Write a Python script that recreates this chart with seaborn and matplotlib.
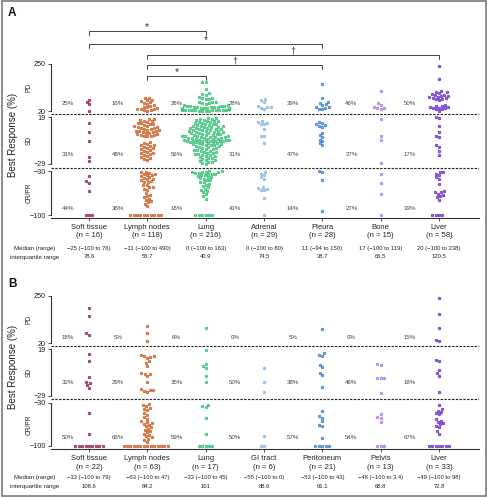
import numpy as np
import pandas as pd
import matplotlib
matplotlib.use("Agg")
import matplotlib.pyplot as plt
import seaborn as sns
from matplotlib.transforms import blended_transform_factory as btf
from matplotlib.patches import Rectangle

sns.set_style("white")
plt.rcParams["font.family"] = ["Liberation Sans", "DejaVu Sans"]

# ---------------- data: panel A ----------------
A_sites = ["Soft tissue", "Lymph nodes", "Lung", "Adrenal", "Pleura", "Bone", "Liver"]
A_n = [16, 118, 216, 29, 28, 15, 58]
A_soft = [76, 64, 52, 22, 13, 4, -5, -22, -26, -38, -46, -49, -62, -100, -100, -100]
A_lymph = [85, 82, 75, 72, 68, 62, 58, 55, 50, 46, 42, 38, 35, 32, 30, 28, 26, 24, 22,
           17, 17, 16, 15, 15, 14, 13, 13, 12, 12, 11, 10, 10, 9, 9, 8, 8, 7, 7, 6, 6, 5, 5, 5,
           4, 4, 3, 3, 2, 2, 1, 1, 0, 0, 0,
           -7, -8, -9, -10, -10, -11, -12, -13, -13, -14, -15, -16, -17, -18, -18, -19, -20,
           -21, -22, -23, -24, -25,
           -31, -32, -33, -34, -35, -36, -37, -38, -40, -41, -42, -43, -45, -46, -47, -48,
           -52, -53, -55, -56, -58, -60, -65, -68, -70, -72, -74, -76, -78, -80, -82, -85,
           -100, -100, -100, -100, -100, -100, -100, -100, -100, -100]
A_lung = [163, 160, 126, 108, 104, 100, 88, 85, 82, 80, 78, 66, 64, 62, 60, 58, 56,
          21, 21, 22, 22, 23, 23, 24, 24, 25, 25, 26, 26, 27, 27, 28, 28, 29, 29, 30, 30,
          31, 31, 32, 33, 34, 35, 36, 37, 38, 39, 40, 41, 42, 43, 44, 45, 46, 47, 48,
          18, 18, 17, 17, 16, 16, 15, 15, 15, 14, 14, 13, 13, 12, 12, 12, 11, 11, 10, 10, 10,
          9, 9, 9, 8, 8, 8, 7, 7, 7, 6, 6, 6, 5, 5, 5, 4, 4, 4, 3, 3, 3, 2, 2, 2, 1, 1, 1,
          0, 0, 0, 0,
          -1, -1, -1, -1, -2, -2, -2, -2, -3, -3, -3, -3, -4, -4, -4, -4, -5, -5, -5, -5,
          -6, -6, -6, -6, -7, -7, -7, -8, -8, -8, -9, -9, -9, -10, -10, -10, -11, -11,
          -12, -12, -13, -13, -14, -14, -15, -15, -16, -16, -17, -17, -18, -18, -19, -19,
          -20, -20, -21, -21, -22, -23, -23, -24, -25, -25, -26, -27, -27, -28, -29,
          -30, -30, -31, -31, -32, -32, -33, -33, -34, -34, -35, -36, -37, -38, -39, -40,
          -41, -42, -44, -45, -47, -48, -50, -52, -54, -56, -58, -60, -62, -64, -67, -70, -74,
          -100, -100, -100, -100, -100, -100]
A_adrenal = [80, 75, 64, 45, 40, 38, 35, 32, 15, 14, 13, 12, 12, 7, 0, 0, -8,
             -31, -34, -36, -40, -42, -56, -57, -58, -60, -61, -73, -100]
A_pleura = [150, 85, 65, 60, 55, 50, 42, 38, 35, 32, 28, 14, 13, 12, 11, 10, 9, 3, 1,
            -1, -4, -6, -8, -10, -30, -31, -45, -94]
A_bone = [119, 60, 48, 40, 36, 33, 30, 17, 0, -4, -28, -35, -49, -67, -100]
A_liver = [238, 177, 120, 115, 112, 108, 105, 100, 98, 95, 93, 90, 88, 85, 82, 80, 78, 75,
           50, 46, 44, 42, 40, 37, 35, 33, 30, 28, 21,
           19, 18, 10, 4, 0, -1, -10, -12, -16, -20,
           -31, -32, -34, -37, -40, -43, -50, -62, -63, -64, -66, -68, -70, -72, -76,
           -100, -100, -100, -100]
A_pd_pct = [25, 16, 26, 28, 39, 46, 50]
A_sd_pct = [31, 48, 56, 31, 47, 27, 17]
A_cr_pct = [44, 36, 18, 41, 14, 27, 33]
A_median = ["\u221225 (\u2212100 to 76)", "\u221211 (\u2212100 to 490)", "0 (\u2212100 to 163)",
            "0 (\u2212100 to 80)", "11 (\u221294 to 150)", "17 (\u2212100 to 119)",
            "20 (\u2212100 to 238)"]
A_iqr = ["78.6", "55.7", "40.9", "74.5", "38.7", "65.5", "120.5"]

# ---------------- data: panel B ----------------
B_sites = ["Soft tissue", "Lymph nodes", "Lung", "GI tract", "Peritoneum", "Pelvis", "Liver"]
B_n = [22, 63, 17, 6, 21, 13, 33]
B_soft = [190, 154, 68, 62, 14, 7, -9, -15, -16, -18, -21, -46, -80,
          -100, -100, -100, -100, -100, -100, -100, -100, -100]
B_lymph = [103, 70, 30,
           13, 12, 12, 11, 10, 7, 5, 2, -5, -6, -6, -8, -15, -22, -23, -23, -24, -25,
           -32, -34, -36, -38, -40, -42, -47, -50, -53, -56, -60, -62, -63, -64, -66, -68,
           -70, -72, -74, -76, -78, -80, -82, -84, -86, -88, -90, -93,
           -100, -100, -100, -100, -100, -100, -100, -100, -100, -100, -100, -100, -100, -100]
B_lung = [94, 18, 4, 2, 0, -8, -15, -33, -35, -37, -54, -81, -100, -100, -100, -100, -100]
B_gi = [0, -15, -25, -84, -100, -100]
B_perit = [88, 15, 13, 12, 3, 1, -5, -7, -20, -44, -52, -54, -60, -66, -68, -87,
           -100, -100, -100, -100, -100]
B_pelvis = [3.4, 3, -10, -10, -11, -26, -48, -53, -55, -62, -100, -100, -100]
B_liver = [240, 162, 94, 37, 33, 8, 7, -2, -5, -8, -25,
           -33, -40, -43, -45, -47, -49, -57, -59, -61, -63, -65, -67, -70, -76, -80,
           -100, -100, -100, -100, -100, -100, -100]
B_pd_pct = [18, 5, 6, 0, 5, 0, 15]
B_sd_pct = [32, 29, 35, 50, 38, 46, 18]
B_cr_pct = [50, 66, 59, 50, 57, 54, 67]
B_median = ["\u221233 (\u2212100 to 79)", "\u221263 (\u2212100 to 47)", "\u221233 (\u2212100 to 45)",
            "\u221255 (\u2212100 to 0)", "\u221253 (\u2212100 to 43)", "\u221248 (\u2212100 to 3.4)",
            "\u221249 (\u2212100 to 98)"]
B_iqr = ["108.6", "84.2", "101", "88.6", "91.1", "68.8", "72.8"]

A_colors = ["#8e1c42", "#c8581c", "#2fbd70", "#86b6e2", "#3b78c9", "#a877e8", "#6327c4"]
B_colors = ["#8e1c42", "#c8581c", "#2fbd70", "#86b6e2", "#3b78c9", "#a877e8", "#6327c4"]

TICKS = [-100, -30, -29, 19, 20, 250]
TICKLABELS = ["\u2212100", "\u221230", "\u221229", "19", "20", "250"]

W, H = 487, 497
fig = plt.figure(figsize=(W / 100, H / 100), dpi=100)


def fx(px):
    return px / W


def fy(py):
    return 1 - py / H


def make_map(xs, ys):
    xs = np.asarray(xs, float)
    ys = np.asarray(ys, float)
    s0 = (ys[1] - ys[0]) / (xs[1] - xs[0])
    s1 = (ys[-1] - ys[-2]) / (xs[-1] - xs[-2])

    def f(v):
        v = np.asarray(v, float)
        out = np.interp(v, xs, ys)
        out = np.where(v < xs[0], ys[0] + (v - xs[0]) * s0, out)
        out = np.where(v > xs[-1], ys[-1] + (v - xs[-1]) * s1, out)
        return out
    return f


def lighten(c, a):
    c = np.array(c, float)
    c[:3] = c[:3] * (1 - a) + a
    return c


def panel(top, bottom, knot_pos, sites, ns, series, colors, pcts, pct_y,
          medians, iqrs, letter, label_rows, side_centers, best_y, letter_y):
    ax = fig.add_axes([fx(51), fy(bottom), fx(479) - fx(51), (bottom - top) / H])
    fwd = make_map(TICKS, knot_pos)
    inv = make_map(knot_pos, TICKS)
    ax.set_yscale("function", functions=(fwd, inv))
    ymin = float(inv(-(bottom - top - knot_pos[-1])))
    ax.set_ylim(ymin, 250)
    ax.set_xlim(-0.651, 6.686)

    site_col, val_col = [], []
    for s, vals in zip(sites, series):
        site_col += [s] * len(vals)
        val_col += list(vals)
    df = pd.DataFrame({"site": site_col, "value": val_col})
    pal = dict(zip(sites, colors))
    sns.swarmplot(data=df, x="site", y="value", hue="site", order=sites,
                  hue_order=sites, palette=pal, size=1.9, linewidth=0.45,
                  legend=False, ax=ax)
    for coll in ax.collections:
        fc = coll.get_facecolor()
        if len(fc):
            c = fc[0]
            coll.set_edgecolor(c)
            coll.set_facecolor(lighten(c, 0.3))
    ax.set_ylim(ymin, 250)
    ax.set_xlim(-0.651, 6.686)
    ax.set_xlabel("")
    ax.set_ylabel("")
    ax.set_xticks(range(7))
    ax.set_xticklabels([])
    ax.set_yticks(TICKS)
    ax.set_yticklabels(TICKLABELS)
    ax.yaxis.set_minor_locator(matplotlib.ticker.NullLocator())
    ax.tick_params(axis="y", length=2.4, width=0.6, pad=1.2, labelsize=5.2,
                   color="#333333", labelcolor="#222222", left=True)
    ax.tick_params(axis="x", length=1.8, width=0.6, color="#333333", bottom=True)
    for sp in ["left", "top", "right"]:
        ax.spines[sp].set_visible(False)
    ax.spines["bottom"].set_color("#333333")
    ax.spines["bottom"].set_linewidth(0.8)
    ax.patch.set_alpha(0)

    trl = btf(ax.transAxes, ax.transData)
    for lo, hi in [(20, 250), (-29, 19), (-100, -30)]:
        ax.plot([0, 0], [lo, hi], transform=trl, clip_on=False, color="#333333", lw=0.8)
    for yv in [19.5, -29.5]:
        ax.axhline(yv, color="#222222", lw=0.8, ls=(0, (2.2, 1.2)))

    for row, yv in zip(pcts, pct_y):
        for i, p in enumerate(row):
            xpos = -0.36 if i == 0 else i - 0.5
            ax.text(xpos, yv, f"{p}%", ha="center", va="center", fontsize=4.4,
                    color="#444444")

    tr = btf(ax.transData, fig.transFigure)
    y1, y2, y3, y4 = label_rows
    for i in range(7):
        ax.text(i, fy(y1), sites[i], ha="center", va="center", fontsize=5.5,
                color="#222222", transform=tr)
        ax.text(i, fy(y2), f"(n = {ns[i]})", ha="center", va="center", fontsize=5.5,
                color="#222222", transform=tr)
        ax.text(i, fy(y3), medians[i], ha="center", va="center", fontsize=4.2,
                color="#222222", transform=tr)
        ax.text(i, fy(y4), iqrs[i], ha="center", va="center", fontsize=4.2,
                color="#222222", transform=tr)
    fig.text(fx(35), fy(y3), "Median (range)", ha="center", va="center", fontsize=4.4,
             color="#222222")
    fig.text(fx(35), fy(y4), "interquartile range", ha="center", va="center",
             fontsize=4.4, color="#222222")

    for lab, yc in zip(["PD", "SD", "CR/PR"], side_centers):
        fig.text(fx(29), fy(yc), lab, rotation=90, ha="center", va="center",
                 fontsize=4.8, color="#222222")
    fig.text(fx(13.5), fy(best_y), "Best Response (%)", rotation=90, ha="center",
             va="center", fontsize=7, color="#222222")
    fig.text(fx(8), fy(letter_y), letter, ha="left", va="center", fontsize=8.5,
             fontweight="bold", color="#111111")
    return ax, tr


axA, trA = panel(64, 217.7, [0, 44, 51, 98, 104, 151], A_sites, A_n,
                 [A_soft, A_lymph, A_lung, A_adrenal, A_pleura, A_bone, A_liver],
                 A_colors, [A_pd_pct, A_sd_pct, A_cr_pct], [56, -19, -90],
                 A_median, A_iqr, "A", (227.4, 235.8, 248.5, 257.0),
                 (87.5, 140.5, 193), 135, 13)

axB, trB = panel(296, 449.3, [0, 43.3, 50, 96.7, 102.7, 150], B_sites, B_n,
                 [B_soft, B_lymph, B_lung, B_gi, B_perit, B_pelvis, B_liver],
                 B_colors, [B_pd_pct, B_sd_pct, B_cr_pct], [49, -15, -86],
                 B_median, B_iqr, "B", (459.0, 467.3, 477.7, 486.7),
                 (319.7, 372.7, 424.4), 367, 284)

# significance brackets (panel A)
brackets = [(0, 2, 31, "*"), (0, 4, 44, "*"), (1, 6, 55, "\u2020"), (1, 4, 65, "\u2020"),
            (1, 2, 75.7, "*")]
for i, j, yl, lab in brackets:
    axA.plot([i, i, j, j], [fy(yl + 4), fy(yl), fy(yl), fy(yl + 4)], transform=trA,
             clip_on=False, color="#444444", lw=0.7)
    off = 0.8 if lab == "*" else 1.6
    axA.text((i + j) / 2, fy(yl - off), lab, ha="center", va="baseline",
             fontsize=7.5 if lab == "*" else 6.5, color="#333333", transform=trA)

fig.add_artist(Rectangle((fx(1.5), fy(495.5)), fx(484), 494.5 / H,
                         transform=fig.transFigure, fill=False, ec="#7a7a7a", lw=1.2))

fig.savefig("out.png", dpi=100)
